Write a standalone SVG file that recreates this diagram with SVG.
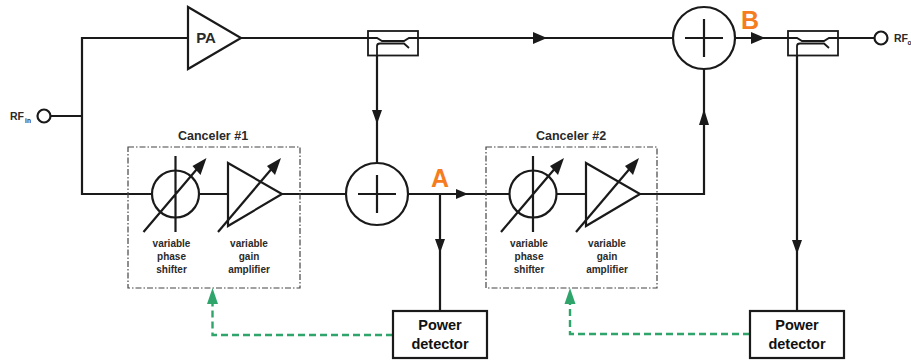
<svg xmlns="http://www.w3.org/2000/svg" width="911" height="362" viewBox="0 0 911 362">
<style>
.w{fill:none;stroke:#1a1a1a;stroke-width:2.2}
.s{fill:#fff;stroke:#1a1a1a;stroke-width:2.2}
.n{fill:none;stroke:#1a1a1a;stroke-width:2.200}
.c{fill:none;stroke:#1a1a1a;stroke-width:1.800}
.d{fill:none;stroke:#444;stroke-width:1.2;stroke-dasharray:6 2 1.5 2}
.g{fill:none;stroke:#2fa56c;stroke-width:2.4;stroke-dasharray:7 4}
.ga{fill:#2fa56c}
.a{fill:#1a1a1a}
text{font-family:"Liberation Sans",Arial,sans-serif;font-weight:bold;fill:#2a2a2a;text-anchor:middle}
.t{font-size:12.5px}
.sm{font-size:10px}
.l{font-size:14.5px;fill:#111}
.o{font-size:25px;fill:#f57c1f}
.rf{font-size:10.500px}
.sub{font-size:6.500px}
</style>
<defs>
<g id="cp"><rect class="c" x="0" y="0" width="50" height="24.500"/>
<path class="c" d="M0 7 H9 L14 10 H36 L41 7 H50 M9 24.500 V15 Q9 12.500 12 12.500 H36 L41 17"/></g>
<g id="ps"><circle class="n" cx="0" cy="0" r="23.500"/>
<path class="n" d="M0 -38 V38 M-32 38 L24 -28"/><path class="a" d="M31 -36 L17 -28 L25 -19Z"/></g>
<g id="va"><path class="n" d="M0 -31 L54 0 L0 32Z"/>
<path class="n" d="M-10 38 L46 -28"/><path class="a" d="M53 -36 L39 -28 L47 -19Z"/></g>
</defs>
<g id="connectors">
<path class="w" d="M188 38 H82 V194 H152 M50.500 116 H82 M241 38 H368 M418 38 H673 M199 194 H228 M282 194 H346 M408 194 H510 M556 194 H586 M640 194 H704 V69 M735 38 H788 M838 38 H875 M377 55.500 V163 M440 194 V311 M797 55.500 V311"/>
<path class="a" d="M533 32 L547 38 L533 44Z M751 32 L765 38 L751 44Z M456 189 L468 194 L456 199Z M372 110 L382 110 L377 124Z M699 125 L709 125 L704 109Z M435 239 L445 239 L440 253Z M792 240 L802 240 L797 254Z"/>
<path class="g" d="M393 335 H212.500 V301"/>
<path class="g" d="M750 334 H570 V301"/>
<path class="ga" d="M207 304 L212.500 288 L218 304Z M564.500 304 L570 288 L575.500 304Z"/>
</g>
<g id="rf-in"><circle class="w" cx="44" cy="116" r="6.500"/><text class="rf" x="17" y="120">RF</text><text class="sub" x="28" y="122.500">in</text></g>
<g id="pa"><path class="s" d="M188 7 L241 38 L188 69Z"/><text x="206" y="43" style="font-size:15px">PA</text></g>
<g id="coupler-1"><use href="#cp" x="368" y="31"/></g>
<g id="coupler-2"><use href="#cp" x="788" y="31"/></g>
<g id="rf-out"><circle class="w" cx="881" cy="38" r="6.500"/><text class="rf" x="901" y="42">RF</text><text class="sub" x="909.500" y="45">o</text></g>
<g id="sum-1"><circle class="s" cx="377" cy="194" r="31"/><path class="w" d="M358 194 H396 M377 175 V213"/></g>
<g id="sum-2"><circle class="s" cx="704" cy="38" r="31"/><path class="w" d="M685 38 H723 M704 19 V57"/></g>
<g id="canceler-1"><rect class="d" x="128" y="147" width="172" height="141"/>
<text class="t" x="213" y="140">Canceler #1</text>
<use href="#ps" x="175.500" y="194"/><use href="#va" x="228" y="194"/>
<text class="sm" x="171.500" y="247">variable</text><text class="sm" x="171.500" y="260">phase</text><text class="sm" x="171.500" y="273">shifter</text>
<text class="sm" x="249" y="247">variable</text><text class="sm" x="249" y="260">gain</text><text class="sm" x="249" y="273">amplifier</text></g>
<g id="canceler-2"><rect class="d" x="486" y="147" width="171" height="141"/>
<text class="t" x="571" y="140">Canceler #2</text>
<use href="#ps" x="533" y="194"/><use href="#va" x="586" y="194"/>
<text class="sm" x="529" y="247">variable</text><text class="sm" x="529" y="260">phase</text><text class="sm" x="529" y="273">shifter</text>
<text class="sm" x="607" y="247">variable</text><text class="sm" x="607" y="260">gain</text><text class="sm" x="607" y="273">amplifier</text></g>
<g id="power-detector-1"><rect class="s" x="393" y="311" width="94" height="47"/><text class="l" x="440" y="330">Power</text><text class="l" x="440" y="349">detector</text></g>
<g id="power-detector-2"><rect class="s" x="750" y="311" width="94" height="47"/><text class="l" x="797" y="330">Power</text><text class="l" x="797" y="349">detector</text></g>
<g id="label-a"><text class="o" x="440" y="187">A</text></g>
<g id="label-b"><text class="o" x="750" y="29">B</text></g>
</svg>
